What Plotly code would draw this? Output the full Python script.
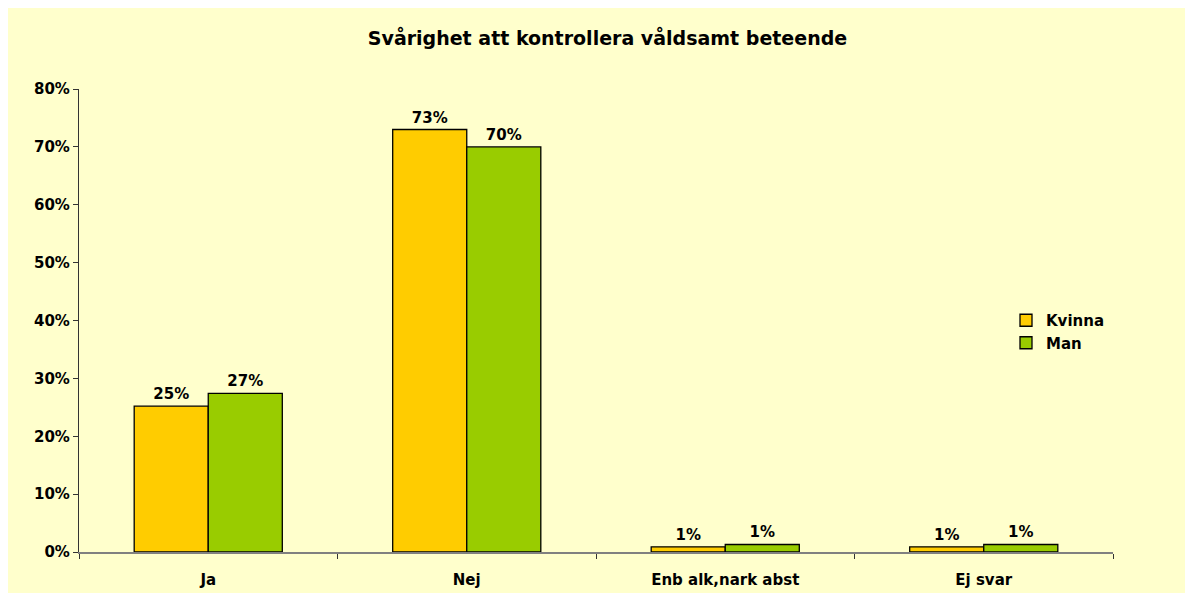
import plotly.graph_objects as go

categories = ["Ja", "Nej", "Enb alk,nark abst", "Ej svar"]
kvinna = [0.252, 0.73, 0.009, 0.009]
man = [0.274, 0.70, 0.013, 0.013]
title = "Svårighet att kontrollera våldsamt beteende"

# figure is placed at (8, 8) in the page by the default body margin
W, H = 1193, 593
L, T = 71, 81
R = W - 1105
B = H - 544
pw, ph = W - L - R, H - T - B

font_fam = "DejaVu Sans, Verdana, sans-serif"
bold = dict(family=font_fam, size=15, color="black", weight="bold")

fig = go.Figure()
for name, vals, col in [("Kvinna", kvinna, "#FFCC00"), ("Man", man, "#99CC00")]:
    fig.add_trace(go.Bar(
        x=categories, y=vals, name=name,
        marker=dict(color=col, line=dict(color="black", width=1.3)),
        texttemplate="%{y:.0%}", textposition="outside",
        textfont=bold, cliponaxis=False,
    ))

fig.update_layout(
    width=W, height=H,
    margin=dict(l=L, r=R, t=T, b=B),
    paper_bgcolor="#FFFFCC", plot_bgcolor="#FFFFCC",
    barmode="group", bargap=0.427, bargroupgap=0,
    title=dict(text=title, x=599.5 / W, xanchor="center", y=1 - 30 / H, yanchor="middle",
               font=dict(family=font_fam, size=19, color="black", weight="bold")),
    legend=dict(x=(998 - L) / pw, y=(544 - 296) / ph, xanchor="left", yanchor="top",
                font=bold, bgcolor="rgba(0,0,0,0)", itemwidth=30, tracegroupgap=0),
    showlegend=True,
)
fig.update_xaxes(showline=True, linecolor="#808080", linewidth=1.5,
                 ticks="outside", tickson="boundaries", ticklen=5, tickcolor="#333",
                 tickfont=bold, showgrid=False, ticklabelstandoff=13)
fig.update_yaxes(range=[0, 0.8], dtick=0.1, tickformat=".0%", showline=True,
                 linecolor="#333", linewidth=1.2, ticks="outside", ticklen=5,
                 tickcolor="#333", tickfont=bold, showgrid=False, zeroline=False)

fig.write_html("out.html")
